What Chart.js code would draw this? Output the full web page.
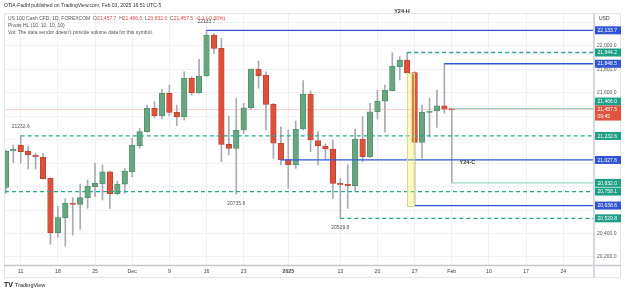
<!DOCTYPE html>
<html><head><meta charset="utf-8">
<script src="https://cdn.jsdelivr.net/npm/chart.js@4/dist/chart.umd.min.js"></script>
<style>html,body{margin:0;padding:0;background:#fff;}#wrap{width:625px;height:293px;position:relative;}</style>
</head><body><div id="wrap"><canvas id="c"></canvas></div>
<script>
// ---- data (bar index 0 = Nov 11 2024, trading days only) ----
const firstIndex = -2;
const opens  = [20794,21104,21155,21101,21067,21050,20871,20407,20535,20660,20649,20706,20799,20825,20927,20740,20822,20927,21150,21269,21468,21405,21596,21434,21394,21724,21601,21744,22094,21980,21161,21127,21283,21473,21803,21750,21502,21170,21030,20985,21292,21590,21192,21147,21121,20828,20820,20808,21206,21055,21439,21530,21619,21823,21880,21772,21178,21434,21445,21490,21457.7];
const highs  = [21112,21155,21232.6,21147,21084,21084,20876,20629,20697,20706,20822,20857,21000,20985,20933,20848,20956,21212,21298,21496,21525,21633,21667,21496,21780,21738,21886,22133.7,22108,22065,21403,21554,21511,21806,21872,21780,21511,21311,21283,21360,21704,21618,21269,21164,21198,20871,20985,21289,21397,21511,21624,21667,21942,21908,21944.2,21780,21496,21554,21624,21848.5,21466];
const lows   = [20743,21004,21000,20948,20950,20866,20310,20368,20293,20387,20436,20615,20714,20686,20615,20730,20743,20885,21127,21264,21388,21377,21405,21320,21368,21582,21596,21740,21937,21013,21070,20735.6,21255,21460,21639,21283,21042,20985,20786,20956,21285,21098,20985,21033,20700,20529.8,20615,20758.1,21013,21050,21377,21266,21616,21710,21770,20638.6,21042,21226,21306,21426,20832];
const closes = [21104,21118,21098,21070,21053,20868,20407,20535,20658,20649,20706,20805,20828,20927,20740,20822,20933,21155,21269,21468,21405,21596,21434,21394,21724,21601,21744,22094,21980,21161,21127,21283,21473,21803,21746,21502,21170,21027.6,20985,21292,21590,21198,21147,21121,20828,20816,20808,21206,21055,21439,21530,21624,21829,21880,21772,21178,21434,21445,21490,21460,21457.5];

const xTickIdx    = [0,5,10,15,20,25,30,36,43,48,53,58,63,68,73];
const xTickLabels = ['11','18','25','Dec','9','16','23','2025','13','20','27','Feb','10','17','24'];
const yTickValues = [20200,20400,20600,20800,21000,21200,21400,21600,21800,22000,22200];
const yTickShown  = [20200,20400,21600,21800,22000];

// level lines: value, first bar index, kind
const levelValues = [22133.7,21944.2,21848.5,21466.0,21232.6,21027.6,20832.0,20758.1,20638.6,20529.8];
const levelStarts = [25,52,57,58,0,35,58,-4,53,43];
const levelKinds  = ['pivot','dash','pivot','hl','dash','pivot','hl','dash','pivot','dash'];
const lastPrice = 21457.5;
const countdown = '09:45';

const pivotIdx  = [0,25,29,43];
const pivotVals = [21232.6,22133.7,20735.6,20529.8];
const pivotSide = ['above','above','below','below'];

const highlightFrom = 52, highlightTo = 53, highlightTop = 21772, highlightBottom = 20638.6;
const yearLabels = [{text:'Y24-H', idx:51.3, val:22290}, {text:'Y24-C', idx:60.1, val:21002}];

// ---- styles ----
const UP='#68a682', UPB='#4f8f6b', DN='#de503c', DNB='#b8402f', WICK='#a9abb2';
const BLUE='#2f58d6', TEAL='#26a88f', HL='#9fd6c7';
const FONT='"Liberation Sans", Arial, sans-serif';
const XMIN=-2.25, XMAX=77.0, YMIN=20131.5, YMAX=22281.3;

const idxs = opens.map((_,i)=>i+firstIndex);
const wickData = idxs.map((x,i)=>({x, y:[lows[i], highs[i]]}));
const bodyData = idxs.map((x,i)=>({x, y:[opens[i], closes[i]]}));
const bodyFill = opens.map((o,i)=> closes[i]>=o ? UP : DN);
const bodyEdge = opens.map((o,i)=> closes[i]>=o ? UPB : DNB);

const levelSets = levelValues.map((v,i)=>{
  const k = levelKinds[i];
  return {
    type:'line', order:0,
    data:[{x:levelStarts[i], y:v},{x:XMAX+1, y:v}],
    borderColor: k==='pivot'?BLUE:(k==='dash'?TEAL:HL),
    borderWidth: k==='hl'?1.2:1.3,
    borderDash: k==='dash'?[4,3]:[],
    pointRadius:0, fill:false, tension:0
  };
});

function fmt(v){ return v.toLocaleString('en-US',{minimumFractionDigits:1, maximumFractionDigits:1}); }

const overlay = {
  id:'overlay',
  afterDatasetsDraw(chart){
    const {ctx, scales:{x,y}, chartArea:a} = chart;
    ctx.save();
    ctx.beginPath(); ctx.rect(a.left,a.top,a.right-a.left,a.bottom-a.top); ctx.clip();
    const rx1=x.getPixelForValue(highlightFrom), rx2=x.getPixelForValue(highlightTo);
    const ry1=y.getPixelForValue(highlightTop), ry2=y.getPixelForValue(highlightBottom);
    ctx.fillStyle='rgba(255,236,70,0.30)';
    ctx.fillRect(rx1,ry1,rx2-rx1,ry2-ry1);
    ctx.strokeStyle='#d3df86'; ctx.lineWidth=1;
    ctx.strokeRect(Math.round(rx1)+0.5,Math.round(ry1)+0.5,Math.round(rx2-rx1),Math.round(ry2-ry1));
    ctx.font='5px '+FONT; ctx.fillStyle='#555'; ctx.textAlign='center'; ctx.textBaseline='middle';
    pivotIdx.forEach((p,i)=>{
      const px=x.getPixelForValue(p), py=y.getPixelForValue(pivotVals[i]);
      ctx.fillText(String(pivotVals[i]), px, py + (pivotSide[i]==='above'?-9:9.5));
    });
    ctx.restore();
  },
  afterDraw(chart){
    const {ctx, scales:{x,y}, chartArea:a} = chart;
    ctx.save();
    ctx.strokeStyle='#e3e5ea'; ctx.lineWidth=1;
    ctx.strokeRect(4.5,13.5,616,264);
    ctx.strokeStyle='#c3c6cd'; ctx.lineWidth=1.5;
    ctx.beginPath(); ctx.moveTo(4,a.bottom+0.5); ctx.lineTo(621,a.bottom+0.5); ctx.stroke();
    ctx.strokeStyle='#d6d8de'; ctx.lineWidth=2;
    ctx.beginPath(); ctx.moveTo(a.right+1,13); ctx.lineTo(a.right+1,278); ctx.stroke();
    // year labels
    ctx.font='bold 5.5px '+FONT; ctx.fillStyle='#333'; ctx.textAlign='center'; ctx.textBaseline='middle';
    yearLabels.forEach(l=>{
      ctx.fillText(l.text, x.getPixelForValue(l.idx), y.getPixelForValue(l.val));
    });
    // axis boxes
    ctx.font='5px '+FONT; ctx.textAlign='left'; ctx.textBaseline='middle';
    const bx=595, bw=26;
    levelValues.forEach((v,i)=>{
      const k=levelKinds[i];
      let cy=y.getPixelForValue(v);
      if (Math.abs(v-lastPrice)<20) cy -= 7;
      ctx.fillStyle = k==='pivot'?'#2f55d4':'#1f9f86';
      ctx.fillRect(bx, cy-4, bw, 8);
      ctx.fillStyle='#fff';
      ctx.fillText(fmt(v), bx+2.5, cy+0.3);
    });
    const ly=y.getPixelForValue(lastPrice);
    ctx.fillStyle='#df5440';
    ctx.fillRect(bx, ly-4, bw, 15);
    ctx.fillStyle='#fff';
    ctx.fillText(fmt(lastPrice), bx+2.5, ly+0.3);
    ctx.fillText(countdown, bx+2.5, ly+7);
    ctx.fillStyle='#333'; ctx.fillText('USD', 599, 18.5);
    ctx.fillStyle='#333'; ctx.font='5px '+FONT;
    ctx.fillText('OTIA-Fadhl published on TradingView.com, Feb 03, 2025 16:51 UTC-5', 4, 6);
    ctx.font='5px '+FONT;
    let lx=8; const l1=18.3;
    const seg=(t,c)=>{ctx.fillStyle=c; ctx.fillText(t,lx,l1); lx+=ctx.measureText(t).width;};
    const RED='#d9463b';
    seg('US 100 Cash CFD, 1D, FOREXCOM  ','#555');
    const last=opens.length-1;
    seg('O','#555'); seg(fmt(opens[last])+'  ',RED);
    seg('H','#555'); seg(fmt(highs[last])+'  ',RED);
    seg('L','#555'); seg(fmt(lows[last])+'  ',RED);
    seg('C','#555'); seg(fmt(closes[last])+'  ',RED);
    seg('-0.1 (-0.00%)',RED);
    ctx.fillStyle='#555';
    ctx.fillText('Pivots HL (10, 10, 10, 10)', 8, 25.3);
    ctx.fillText("Vol: The data vendor doesn't provide volume data for this symbol.", 8, 33);
    ctx.fillStyle='#131722'; ctx.font='bold 7px '+FONT;
    ctx.fillText('TV', 4, 285.5);
    ctx.font='5.5px '+FONT;
    ctx.fillText('TradingView', 15, 285.5);
    ctx.restore();
  }
};

new Chart(document.getElementById('c'), {
  type:'bar',
  data:{ datasets:[
    ...levelSets,
    {type:'line', order:3, data:[{x:XMIN-1,y:lastPrice},{x:XMAX+1,y:lastPrice}], borderColor:'rgba(235,120,105,0.35)', borderWidth:1, pointRadius:0},
    {type:'bar', order:1, data:bodyData, backgroundColor:bodyFill, borderColor:bodyEdge, borderWidth:0.8, borderSkipped:false, barThickness:5.6, grouped:false, minBarLength:1},
    {type:'bar', order:2, data:wickData, backgroundColor:WICK, borderWidth:0, barThickness:1, grouped:false}
  ]},
  options:{
    responsive:true, maintainAspectRatio:false, animation:false, devicePixelRatio:1,
    layout:{padding:{left:4, top:13, right:0, bottom:0}},
    plugins:{legend:{display:false}, tooltip:{enabled:false}},
    scales:{
      x:{type:'linear', min:XMIN, max:XMAX, offset:false,
        afterBuildTicks:s=>{ s.ticks = xTickIdx.map(v=>({value:v})); },
        afterFit:s=>{ s.height=28; },
        grid:{color:'#f0f1f4', offset:false, drawTicks:false}, border:{display:false},
        ticks:{padding:3.5, maxRotation:0, autoSkip:false, color:'#444',
          font:(c)=>({family:FONT, size:5.2, weight: (c.tick && c.tick.value===36)?'bold':'normal'}),
          callback:(v)=>{ const i=xTickIdx.indexOf(v); return i>=0?xTickLabels[i]:''; }}
      },
      y:{type:'linear', position:'right', min:YMIN, max:YMAX,
        afterBuildTicks:s=>{ s.ticks = yTickValues.map(v=>({value:v})); },
        afterFit:s=>{ s.width=32; },
        grid:{color:'#f0f1f4', drawTicks:false}, border:{display:false},
        ticks:{padding:4, color:'#555', font:{family:FONT, size:5},
          callback:(v)=> yTickShown.includes(v)?fmt(v):''}
      }
    }
  },
  plugins:[overlay]
});
</script></body></html>
